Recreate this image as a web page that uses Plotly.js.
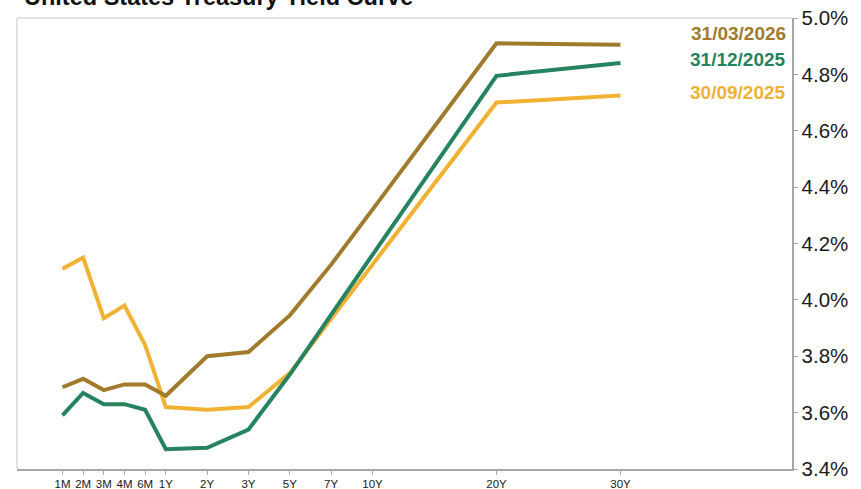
<!DOCTYPE html>
<html>
<head>
<meta charset="utf-8">
<script src="https://cdn.plot.ly/plotly-3.0.1.min.js"></script>
<style>html,body{margin:0;padding:0;background:#fff;}#chart{width:861px;height:489px;}</style>
</head>
<body>
<div id="chart"></div>
<script>
// Maturities (tick labels) and their positions on the custom spaced axis
var maturities = ["1M","2M","3M","4M","6M","1Y","2Y","3Y","5Y","7Y","10Y","20Y","30Y"];
var maturityPos = [0,1,2,3,4,5,7,9,11,13,15,21,27];

var seriesNames = ["31/03/2026","31/12/2025","30/09/2025"];
var yields_20260331 = [3.69,3.72,3.68,3.70,3.70,3.66,3.80,3.815,3.945,4.125,4.32,4.91,4.905];
var yields_20251231 = [3.59,3.67,3.63,3.63,3.61,3.47,3.475,3.54,3.735,3.945,4.16,4.795,4.84];
var yields_20250930 = [4.11,4.15,3.935,3.98,3.84,3.62,3.61,3.62,3.74,3.93,4.125,4.70,4.725];

var colors = ["#A17B2B","#25835F","#F1B133"];
var allSeries = [yields_20260331, yields_20251231, yields_20250930];

var traces = allSeries.map(function(vals, i){
  return {
    type: "scatter", mode: "lines",
    x: maturityPos, y: vals, name: seriesNames[i],
    line: {color: colors[i], width: 4},
    hoverinfo: "skip"
  };
});
// draw oldest first so newest on top
traces.reverse();

var labelY = [0.9667, 0.9069, 0.8359];
var annotations = seriesNames.map(function(n, i){
  return {
    text: "<b>" + n + "</b>", xref: "paper", yref: "paper",
    x: 0.9948, y: labelY[i], xanchor: "right", yanchor: "middle",
    showarrow: false,
    font: {family: "Liberation Sans, Arial, sans-serif", size: 19, color: colors[i]}
  };
});
annotations.push({
  text: "<b>United States Treasury Yield Curve</b>",
  xref: "paper", yref: "paper", x: 0, y: 1.0466, xanchor: "left", yanchor: "middle",
  xshift: 5, showarrow: false,
  font: {family: "Liberation Sans, Arial, sans-serif", size: 23.5, color: "#111"}
});

var layout = {
  width: 861, height: 489,
  margin: {l: 17, r: 69, t: 18, b: 20},
  paper_bgcolor: "#fff", plot_bgcolor: "#fff",
  showlegend: false,
  font: {family: "Liberation Sans, Arial, sans-serif", color: "#1a1a1a"},
  xaxis: {
    range: [-2.2, 35.3], tickmode: "array", tickvals: maturityPos, ticktext: maturities,
    showgrid: false, zeroline: false, showline: true, linecolor: "#A6A6A6", linewidth: 1.5,
    ticks: "outside", ticklen: 4, tickcolor: "#A6A6A6", tickwidth: 1,
    tickfont: {size: 11.5, color: "#1a1a1a"}, fixedrange: true
  },
  yaxis: {
    side: "right", range: [3.4, 5.0], dtick: 0.2, tick0: 3.4, tickformat: ".1f", ticksuffix: "%",
    showgrid: false, zeroline: false, showline: true, linecolor: "#A6A6A6", linewidth: 1.5,
    ticks: "outside", ticklen: 4, tickcolor: "#A6A6A6", tickwidth: 1,
    tickfont: {size: 20.5, color: "#1a1a1a"}, fixedrange: true
  },
  shapes: [
    {type: "line", xref: "paper", yref: "paper", x0: 0, x1: 1, y0: 1, y1: 1, line: {color: "#D9D9D9", width: 1.5}},
    {type: "line", xref: "paper", yref: "paper", x0: 0, x1: 0, y0: 0, y1: 1, line: {color: "#D9D9D9", width: 1.5}}
  ],
  annotations: annotations
};

Plotly.newPlot("chart", traces, layout, {staticPlot: true, displayModeBar: false});
</script>
</body>
</html>
